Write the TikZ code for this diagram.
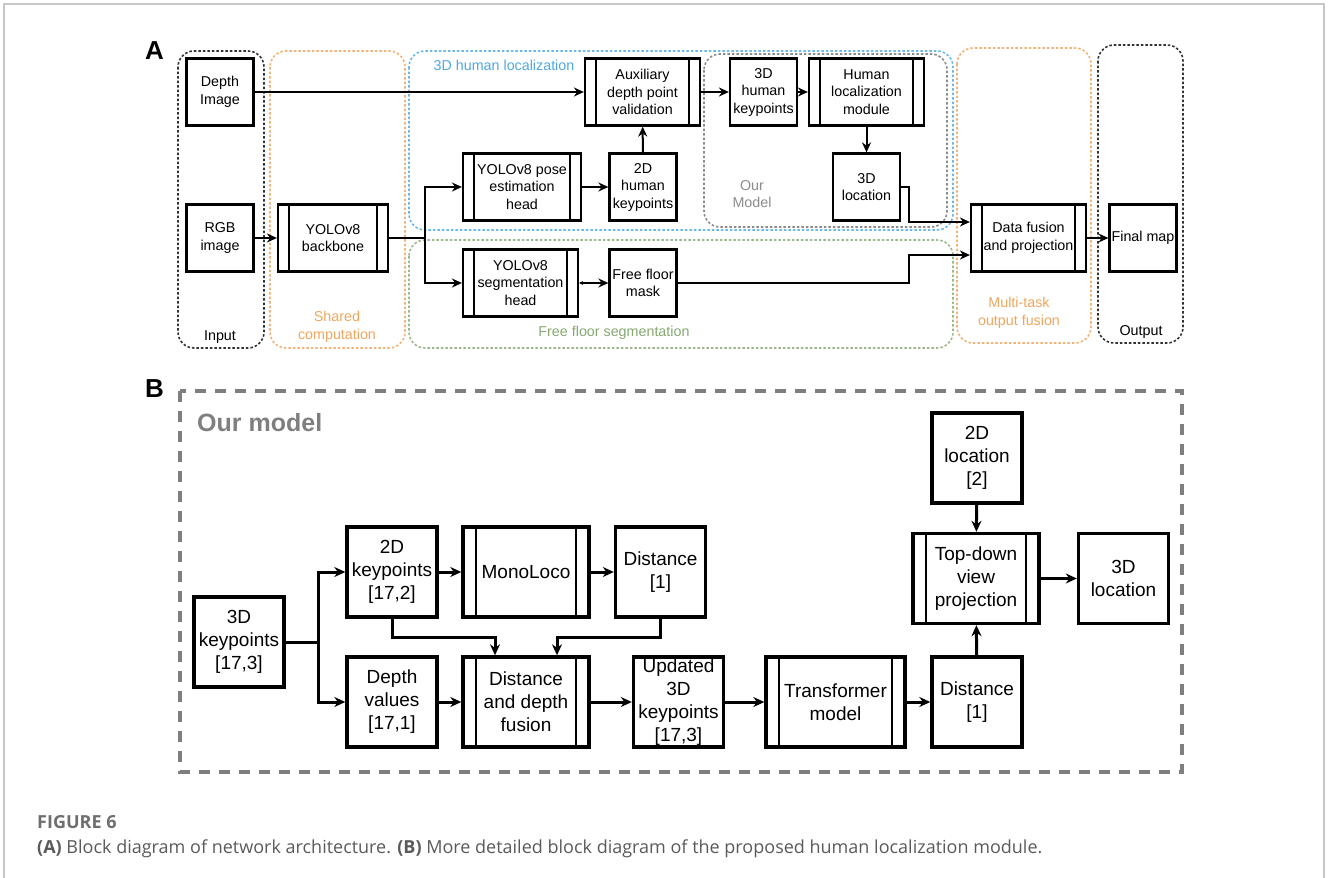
\documentclass[tikz,border=0pt]{standalone}
\usepackage{fontspec}
\setmainfont{Liberation Sans}
\newfontfamily\capfont{Open Sans}
\usetikzlibrary{arrows.meta}
\definecolor{grporange}{HTML}{F2B47A}
\definecolor{grpblue}{HTML}{6DB8EA}
\definecolor{grpgreen}{HTML}{9DB88F}
\definecolor{grpgray}{HTML}{8C8C8C}
\definecolor{txtorange}{HTML}{F0A65C}
\definecolor{txtblue}{HTML}{4FA8E0}
\definecolor{txtgreen}{HTML}{86A870}
\definecolor{framegray}{HTML}{C8C8C8}
\definecolor{modelgray}{HTML}{7F7F7F}
\definecolor{capgray}{HTML}{6E6E6E}
\definecolor{captext}{HTML}{5A5A5A}
\tikzstyle{block}=[draw, line width=2.2pt, inner sep=0pt, minimum width=67pt, minimum height=67pt, align=center, font=\fontsize{14.3}{17.5}\selectfont]
\tikzstyle{procA}=[block, path picture={\draw[line width=1.6pt] ([xshift=11pt]path picture bounding box.north west) -- ([xshift=11pt]path picture bounding box.south west) ([xshift=-11pt]path picture bounding box.north east) -- ([xshift=-11pt]path picture bounding box.south east);}]
\tikzstyle{bblock}=[block, line width=3.4pt, minimum width=90pt, minimum height=90pt, font=\fontsize{19}{23}\selectfont]
\tikzstyle{procB}=[bblock, path picture={\draw[line width=2.2pt] ([xshift=13pt]path picture bounding box.north west) -- ([xshift=13pt]path picture bounding box.south west) ([xshift=-13pt]path picture bounding box.north east) -- ([xshift=-13pt]path picture bounding box.south east);}]
\tikzstyle{edge}=[draw, line width=2pt, -{Stealth[length=10pt,width=9pt]}]
\tikzstyle{edgeB}=[draw, line width=3pt, -{Stealth[length=11pt,width=10pt]}]
\tikzstyle{grp}=[line width=1.6pt, rounded corners=16pt, dash pattern=on 2.5pt off 2pt]
\tikzstyle{grplabel}=[font=\fontsize{14.3}{17.5}\selectfont, align=center, inner sep=0pt]

\begin{document}
\begin{tikzpicture}[x=1pt, y=-1pt]
	\useasboundingbox (0,0) rectangle (1328,878);
	\draw[framegray, line width=1.5pt] (4,878) -- (4,4) -- (1324,4) -- (1324,878);

	% Panel A: first the groups
	\node[font=\bfseries\fontsize{26}{26}\selectfont, anchor=base west, inner sep=0pt] (labA) at (145,59) {A};
	\draw[grp, black!80] (178,51) rectangle (264,348);
	\draw[grp, grporange] (270,51) rectangle (405,348);
	\draw[grp, grpblue] (409,51) rectangle (953,230);
	\draw[grp, grpgray] (704,54) rectangle (947,227);
	\draw[grp, grpgreen] (409,240) rectangle (953,348);
	\draw[grp, grporange] (957,48) rectangle (1091,343);
	\draw[grp, black!80] (1098,45) rectangle (1183,343);

	\node[grplabel] (gin) at (220,337) {Input};
	\node[grplabel, text=txtorange] (gshared) at (337,327) {Shared\\computation};
	\node[grplabel, text=txtblue] (gloc) at (504,65) {3D human localization};
	\node[grplabel, text=grpgray] (gmodel) at (752,194) {Our\\Model};
	\node[grplabel, text=txtgreen] (gfloor) at (614,333) {Free floor segmentation};
	\node[grplabel, text=txtorange] (gmulti) at (1019,313) {Multi-task\\output fusion};
	\node[grplabel] (gout) at (1141,332) {Output};

	% Then the vertices of panel A
	\foreach \pos/\name/\txt in {{(220,92)/depth/{Depth\\Image}}, {(220,238)/rgb/{RGB\\image}},
							{(643,187)/kp2d/{2D\\human\\keypoints}}, {(763.5,92)/kp3d/{3D\\human\\keypoints}},
							{(866.5,187)/loc/{3D\\location}}, {(643,283)/mask/{Free floor\\mask}},
							{(1143,238)/map/{Final map}}}
	\node[block] (\name) at \pos {\txt};

	\foreach \pos/\name/\w/\txt in {{(333,238)/bb/110/{YOLOv8\\backbone}}, {(522,187)/pose/118/{YOLOv8 pose\\estimation\\head}},
							{(520.5,283)/seg/115/{YOLOv8\\segmentation\\head}}, {(642.5,92)/aux/115/{Auxiliary\\depth point\\validation}},
							{(866.5,92)/hlm/115/{Human\\localization\\module}}, {(1028.5,238)/fusion/115/{Data fusion\\and projection}}}
	\node[procA, minimum width=\w pt] (\name) at \pos {\txt};

	% Connect them
	\coordinate (split) at (425,238);
	\foreach \source/\dest in {depth/aux, rgb/bb, pose/kp2d, aux/kp3d, kp3d/hlm, fusion/map}
	\path[edge] (\source.east) -- (\dest.west);
	\path[edge] (kp2d) -- (aux);
	\path[edge] (hlm) -- (loc);
	\draw[line width=2pt] (bb.east) -- (split);
	\path[edge] (split) |- (pose.west);
	\path[edge] (split) |- (seg.west);
	\path[edge, {Stealth[length=4pt,width=4pt]}-{Stealth[length=10pt,width=9pt]}] (seg.east) -- (mask.west);
	\path[edge] (loc.east) -- (909,187) |- ([yshift=16pt]fusion.west);
	\path[edge] (mask.east) -- (909,283) |- ([yshift=-17pt]fusion.west);

	% Panel B
	\node[font=\bfseries\fontsize{26}{26}\selectfont, anchor=base west, inner sep=0pt] (labB) at (145,397) {B};
	\draw[modelgray, line width=3.5pt, dash pattern=on 11pt off 9pt] (180,391) rectangle (1182,772);
	\node[font=\bfseries\fontsize{25}{25}\selectfont, text=modelgray, anchor=west, inner sep=0pt] (ourmodel) at (197,423) {Our model};

	\foreach \pos/\name/\txt in {{(239,642)/kp3/{3D\\keypoints\\{[17,3]}}}, {(392,572)/kp2/{2D\\keypoints\\{[17,2]}}},
							{(660.5,572)/dist1/{Distance\\{[1]}}}, {(392,702)/depthv/{Depth\\values\\{[17,1]}}},
							{(678.5,702)/upd/{Updated\\3D\\keypoints\\{[17,3]}}}, {(977,702)/dist2/{Distance\\{[1]}}},
							{(977,458)/loc2d/{2D\\location\\{[2]}}}, {(1123.5,578.5)/loc3d/{3D\\location}}}
	\node[bblock] (\name) at \pos {\txt};

	\foreach \pos/\name/\w/\txt in {{(526,572)/mono/126/{MonoLoco}}, {(526,702)/ddf/126/{Distance\\and depth\\fusion}},
							{(835.5,702)/trans/139/{Transformer\\model}}, {(976,578.5)/topdown/126/{Top-down\\view\\projection}}}
	\node[procB, minimum width=\w pt] (\name) at \pos {\txt};

	\coordinate (fork) at (318,642);
	\draw[line width=3pt] (kp3.east) -- (fork);
	\path[edgeB] (fork) |- (kp2.west);
	\path[edgeB] (fork) |- (depthv.west);
	\foreach \source/\dest in {kp2/mono, mono/dist1, depthv/ddf, ddf/upd, upd/trans, trans/dist2, topdown/loc3d}
	\path[edgeB] (\source.east) -- (\dest.west);
	\path[edgeB] (kp2.south) -- ++(0,19) -| ([xshift=-31pt]ddf.north);
	\path[edgeB] (dist1.south) -- ++(0,19) -| ([xshift=31pt]ddf.north);
	\path[edgeB] (dist2) -- (topdown);
	\path[edgeB] (loc2d) -- (topdown);

	% Caption
	\node[anchor=base west, inner sep=0pt, text=capgray, font=\capfont\bfseries\fontsize{18}{21}\selectfont] (figno) at (37,828) {FIGURE 6};
	\node[anchor=base west, inner sep=0pt, text=captext, font=\capfont\fontsize{18}{21}\selectfont] (caption) at (37,853) {\textbf{(A)} Block diagram of network architecture. \textbf{(B)} More detailed block diagram of the proposed human localization module.};
\end{tikzpicture}
\end{document}
